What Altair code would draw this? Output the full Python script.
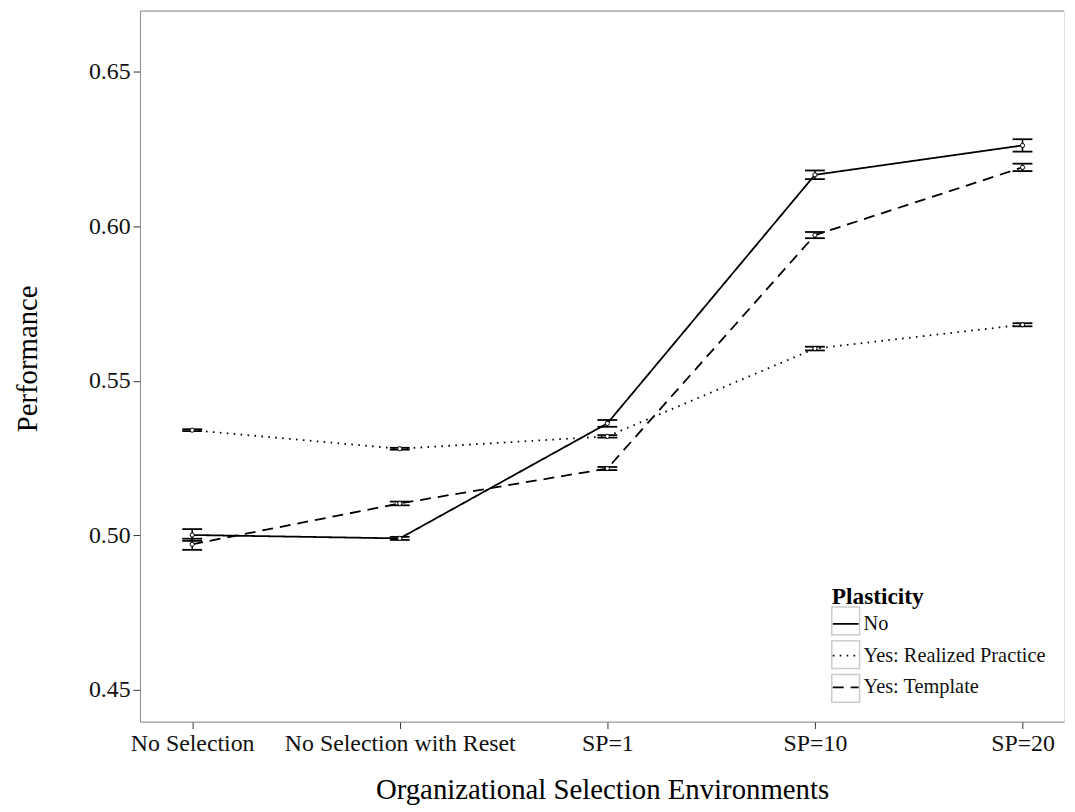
import json
import altair as alt
import pandas as pd

categories = ["No Selection", "No Selection with Reset", "SP=1", "SP=10", "SP=20"]
series = ["No", "Yes: Realized Practice", "Yes: Template"]

mean_no = [0.5001, 0.4990, 0.5362, 0.6166, 0.6261]
err_no = [0.0019, 0.0005, 0.0011, 0.0014, 0.0020]
mean_real = [0.5340, 0.5280, 0.5320, 0.5604, 0.5681]
err_real = [0.0003, 0.0003, 0.0004, 0.0006, 0.0005]
mean_tmpl = [0.4971, 0.5103, 0.5216, 0.5971, 0.6190]
err_tmpl = [0.0018, 0.0006, 0.0005, 0.0010, 0.0012]

y_ticks = [0.45, 0.50, 0.55, 0.60, 0.65]

rows = []
for s, means, errs in zip(series, [mean_no, mean_real, mean_tmpl], [err_no, err_real, err_tmpl]):
    for i, (c, m, e) in enumerate(zip(categories, means, errs)):
        rows.append({"idx": i, "env": c, "plasticity": s, "plasticity_box": s,
                     "mean": m, "lo": m - e, "hi": m + e})
df = pd.DataFrame(rows)

W, H = 931, 716
FONT = "Liberation Serif"
label_expr = json.dumps(categories) + "[datum.value]"

xs = alt.Scale(domain=[-0.2514, 4.2], nice=False, zero=False)
ys = alt.Scale(domain=[0.43973, 0.66958], nice=False, zero=False)

x_enc = alt.X(
    "idx:Q", scale=xs,
    axis=alt.Axis(values=list(range(len(categories))), labelExpr=label_expr, grid=False,
                  title="Organizational Selection Environments", titleY=68, titleBaseline="middle",
                  labelFontSize=24, titleFontSize=29, tickSize=7, labelPadding=3, labelLimit=0,
                  domainColor="#8c8c8c", tickColor="#333333", labelColor="#111111",
                  titleFontWeight="normal", labelFlush=False, titleLimit=0),
)
y_enc = alt.Y(
    "mean:Q", scale=ys,
    axis=alt.Axis(values=y_ticks, format=".2f", grid=False, title="Performance",
                  titleX=-113, titleY=350, titleAngle=-90, titleBaseline="middle", titleAlign="center",
                  labelFontSize=24, titleFontSize=29, tickSize=7, labelPadding=3, labelLimit=0,
                  domainColor="#8c8c8c", tickColor="#333333", labelColor="#111111",
                  titleFontWeight="normal", titleLimit=0),
)

LX, LY = 696, 574

common = dict(orient="none", labelFontSize=20.5, titleFontSize=23.5, titleFontWeight="bold",
              titlePadding=2, labelLimit=0, titleLimit=0)

dash = alt.StrokeDash(
    "plasticity:N",
    scale=alt.Scale(domain=series, range=[[1, 0], [1.6, 5.4], [11, 7]]),
    legend=alt.Legend(title="Plasticity", legendX=LX + 1, legendY=LY + 4,
                      symbolType="stroke", symbolSize=676, symbolStrokeWidth=1.6,
                      symbolStrokeColor="black", rowPadding=7, labelOffset=4,
                      labelColor="#111111", titleColor="black", zindex=2, **common),
)

box_shape = alt.Shape(
    "plasticity_box:N",
    scale=alt.Scale(domain=series, range=["square", "square", "square"]),
    legend=alt.Legend(title=" ", legendX=LX, legendY=LY,
                      symbolSize=784, symbolStrokeWidth=1.5, symbolStrokeColor="#cccccc",
                      symbolFillColor="transparent", symbolOpacity=1, rowPadding=0, labelOffset=3,
                      labelExpr="''", titleOpacity=0, zindex=1, **common),
)

base = alt.Chart(df)

boxes = base.mark_point(filled=False, opacity=0, size=1).encode(
    x=alt.X("idx:Q", scale=xs), y=alt.Y("mean:Q", scale=ys), shape=box_shape
)
lines = base.mark_line(color="black", strokeWidth=1.8, strokeCap="butt").encode(
    x=x_enc, y=y_enc, strokeDash=dash, detail="plasticity:N"
)
bars = base.mark_rule(color="black", strokeWidth=1.5).encode(
    x=alt.X("idx:Q", scale=xs), y=alt.Y("lo:Q", scale=ys), y2="hi:Q"
)
cap_lo = base.mark_tick(color="black", orient="horizontal", size=20, thickness=1.8, opacity=1).encode(
    x=alt.X("idx:Q", scale=xs), y=alt.Y("lo:Q", scale=ys)
)
cap_hi = base.mark_tick(color="black", orient="horizontal", size=20, thickness=1.8, opacity=1).encode(
    x=alt.X("idx:Q", scale=xs), y=alt.Y("hi:Q", scale=ys)
)
pts = base.mark_point(filled=True, fill="white", stroke="black", strokeWidth=1, size=18, opacity=1).encode(
    x=alt.X("idx:Q", scale=xs), y=alt.Y("mean:Q", scale=ys)
)
top = alt.Chart(alt.Data(values=[{}])).mark_rule(color="#8c8c8c", strokeWidth=1).encode(
    x=alt.value(0), x2=alt.value(W), y=alt.value(0)
)

chart = alt.layer(top, boxes, lines, bars, cap_lo, cap_hi, pts).resolve_legend(
    shape="independent", strokeDash="independent"
).properties(
    width=W, height=H,
    padding={"left": 133, "top": 0, "right": 3, "bottom": 86},
    autosize=alt.AutoSizeParams(type="none"),
).configure_view(stroke=None).configure(
    font=FONT
).configure_axis(labelFont=FONT, titleFont=FONT).configure_legend(labelFont=FONT, titleFont=FONT)

chart.save("out.html", embed_options={"renderer": "svg", "actions": False})
